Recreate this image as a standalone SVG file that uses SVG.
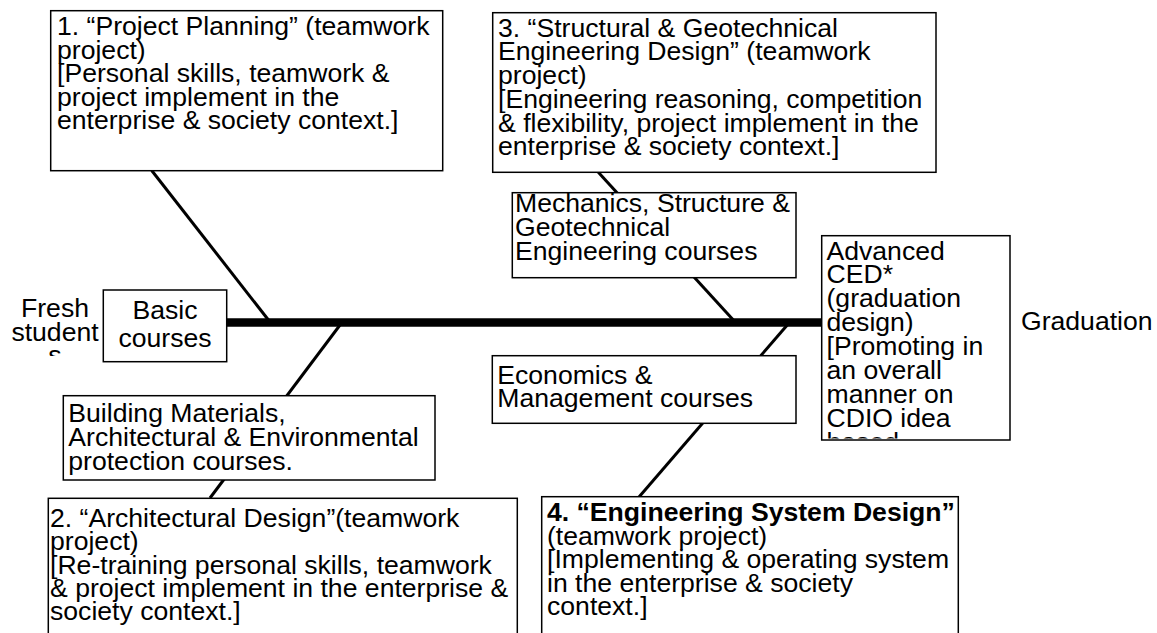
<svg xmlns="http://www.w3.org/2000/svg" width="1157" height="633" viewBox="0 0 1157 633">
<style>
text{font-family:"Liberation Sans",Arial,sans-serif;font-size:26.6px;fill:#000}
.box{fill:#fff;stroke:#000;stroke-width:1.5}
.c{text-anchor:middle}
.b{font-weight:bold}
.ln{stroke:#000;stroke-width:3;fill:none}
</style>
<defs>
<clipPath id="clipFresh"><rect x="0" y="280" width="102" height="76"/></clipPath>
<clipPath id="clipAdv"><rect x="822" y="236" width="188" height="202.5"/></clipPath>
</defs>
<rect width="1157" height="633" fill="#fff"/>
<g id="connectors">
<line x1="226" y1="322.5" x2="822" y2="322.5" stroke="#000" stroke-width="8.5"/>
<line class="ln" x1="151.7" y1="170.5" x2="270" y2="322"/>
<line class="ln" x1="340" y1="325" x2="210" y2="498"/>
<line class="ln" x1="598.3" y1="172.3" x2="733.3" y2="320"/>
<line class="ln" x1="789" y1="323" x2="639" y2="497"/>
</g>
<g id="fresh" clip-path="url(#clipFresh)">
<text class="c" x="55" y="316.7">Fresh</text>
<text class="c" x="55" y="340.7">student</text>
<text class="c" x="55" y="364.4">s</text>
</g>
<g id="basic">
<rect class="box" x="103.3" y="290" width="123.4" height="71.7"/>
<text class="c" x="165" y="318.5">Basic</text>
<text class="c" x="165" y="346.7">courses</text>
</g>
<g id="box1">
<rect class="box" x="50.7" y="10.7" width="392" height="160"/>
<text x="57" y="35">1. “Project Planning” (teamwork</text>
<text x="57" y="58.5">project)</text>
<text x="57" y="82.2">[Personal skills, teamwork &amp;</text>
<text x="57" y="105.8">project implement in the</text>
<text x="57" y="129.4">enterprise &amp; society context.]</text>
</g>
<g id="box3">
<rect class="box" x="492.7" y="12.7" width="443.3" height="159.6"/>
<text x="498" y="36.7">3. “Structural &amp; Geotechnical</text>
<text x="498" y="60.4">Engineering Design” (teamwork</text>
<text x="498" y="84.1">project)</text>
<text x="498" y="107.8">[Engineering reasoning, competition</text>
<text x="498" y="131.6">&amp; flexibility, project implement in the</text>
<text x="498" y="155.4">enterprise &amp; society context.]</text>
</g>
<g id="mechanics">
<rect class="box" x="512.3" y="192.7" width="283.7" height="85"/>
<text x="515" y="212.3">Mechanics, Structure &amp;</text>
<text x="515" y="236">Geotechnical</text>
<text x="515" y="259.8">Engineering courses</text>
</g>
<g id="advanced">
<rect class="box" x="821.7" y="235.7" width="188.3" height="204.3"/>
<g clip-path="url(#clipAdv)">
<text x="826.5" y="259.5">Advanced</text>
<text x="826.5" y="283.4">CED*</text>
<text x="826.5" y="307.3">(graduation</text>
<text x="826.5" y="331.2">design)</text>
<text x="826.5" y="355.1">[Promoting in</text>
<text x="826.5" y="379">an overall</text>
<text x="826.5" y="402.9">manner on</text>
<text x="826.5" y="426.8">CDIO idea</text>
<text x="826.5" y="451">based</text>
</g>
</g>
<g id="graduation">
<text x="1021" y="330">Graduation</text>
</g>
<g id="economics">
<rect class="box" x="492.3" y="355.7" width="303.7" height="67.6"/>
<text x="497.3" y="384">Economics &amp;</text>
<text x="497.3" y="407.3">Management courses</text>
</g>
<g id="building">
<rect class="box" x="63.3" y="395.7" width="371.7" height="84.3"/>
<text x="68.3" y="422.3">Building Materials,</text>
<text x="68.3" y="446">Architectural &amp; Environmental</text>
<text x="68.3" y="470">protection courses.</text>
</g>
<g id="box2">
<rect class="box" x="48.3" y="498.3" width="469" height="150" stroke-width="2"/>
<text x="50" y="527">2. “Architectural Design”(teamwork</text>
<text x="50" y="550.3">project)</text>
<text x="50" y="573.6">[Re-training personal skills, teamwork</text>
<text x="50" y="597">&amp; project implement in the enterprise &amp;</text>
<text x="50" y="620.3">society context.]</text>
</g>
<g id="box4">
<rect class="box" x="541.7" y="496.7" width="416.6" height="150" stroke-width="3"/>
<text class="b" x="547" y="521">4. “Engineering System Design”</text>
<text x="547" y="544.5">(teamwork project)</text>
<text x="547" y="568">[Implementing &amp; operating system</text>
<text x="547" y="591.5">in the enterprise &amp; society</text>
<text x="547" y="615">context.]</text>
</g>
</svg>
